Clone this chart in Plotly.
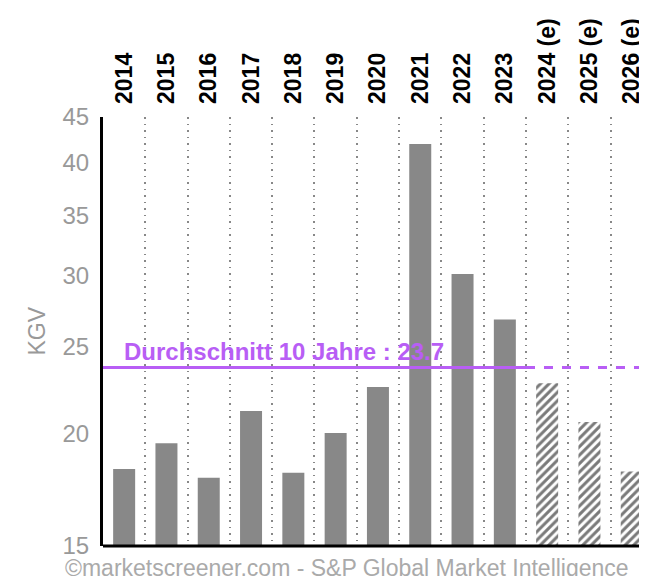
import math
import plotly.graph_objects as go

years = ["2014", "2015", "2016", "2017", "2018", "2019", "2020", "2021", "2022", "2023",
         "2024 (e)", "2025 (e)", "2026 (e)"]
kgv = [18.27, 19.51, 17.87, 21.2, 18.09, 20.04, 22.54, 42.0, 30.1, 26.8, 22.75, 20.6, 18.15]
n_actual = 10
avg_value = 23.7
avg_label = "Durchschnitt 10 Jahre : 23.7"
y_ticks = [15, 20, 25, 30, 35, 40, 45]
y_title = "KGV"
source = "©marketscreener.com - S&P Global Market Intelligence"

FONT = "Arial, Liberation Sans, sans-serif"
GRAY = "#888888"
PURPLE = "#b85ef5"

fig = go.Figure()
fig.add_trace(go.Bar(
    x=years[:n_actual], y=kgv[:n_actual], width=0.52,
    marker=dict(color=GRAY, line=dict(width=0)), showlegend=False,
))
fig.add_trace(go.Bar(
    x=years[n_actual:], y=kgv[n_actual:], width=0.52,
    marker=dict(color="white", line=dict(width=0),
                pattern=dict(shape="/", fgcolor="#7a7a7a", bgcolor="white", size=6,
                             solidity=0.5, fgopacity=1)),
    showlegend=False,
))

# average line: solid over history, dashed over estimates
fig.add_shape(type="line", xref="x", yref="y", x0=-0.5, x1=n_actual - 0.5,
              y0=avg_value, y1=avg_value, line=dict(color=PURPLE, width=3))
fig.add_shape(type="line", xref="x", yref="y", x0=n_actual - 0.5, x1=len(years) - 0.5,
              y0=avg_value, y1=avg_value, line=dict(color=PURPLE, width=3, dash="dash"))

fig.add_annotation(x=-0.05, y=math.log10(avg_value), xref="x", yref="y", text=avg_label,
                   showarrow=False, xanchor="left", yanchor="bottom", yshift=0,
                   font=dict(family=FONT, size=24, color=PURPLE, weight="bold"))

fig.add_annotation(x=0, y=0.5, xref="paper", yref="paper", text=y_title, showarrow=False,
                   xanchor="center", yanchor="middle", xshift=-67, textangle=-90,
                   font=dict(family=FONT, size=23, color="#999999"))

fig.add_annotation(x=0, y=0, xref="paper", yref="paper", text=source, showarrow=False,
                   xanchor="left", yanchor="middle", yshift=-22, xshift=-40,
                   font=dict(family=FONT, size=23, color="#aaaaaa"))

fig.update_layout(
    width=647, height=576,
    margin=dict(l=95, r=0, t=109, b=38),
    paper_bgcolor="white", plot_bgcolor="white",
    font=dict(family=FONT),
    xaxis=dict(
        type="category", side="top", tickangle=-90, range=[-0.5, 12.55],
        tickson="boundaries", ticks="", ticklabelstandoff=12,
        tickfont=dict(family=FONT, size=23, color="black", weight="bold"),
        showgrid=True, gridcolor="#888888", griddash="1.5px,5px", gridwidth=1.5,
        showline=False, zeroline=False,
    ),
    yaxis=dict(
        type="log", range=[math.log10(15), math.log10(45)],
        tickvals=y_ticks, ticktext=[str(v) for v in y_ticks],
        tickfont=dict(family=FONT, size=24, color="#999999"),
        ticks="outside", ticklen=6, tickcolor="rgba(0,0,0,0)",
        showgrid=False, zeroline=False,
        showline=True, linecolor="black", linewidth=3,
    ),
)
# bottom axis line
fig.add_shape(type="line", xref="paper", yref="paper", x0=0, x1=1, y0=0, y1=0,
              line=dict(color="black", width=3))

fig.write_html("out.html")
